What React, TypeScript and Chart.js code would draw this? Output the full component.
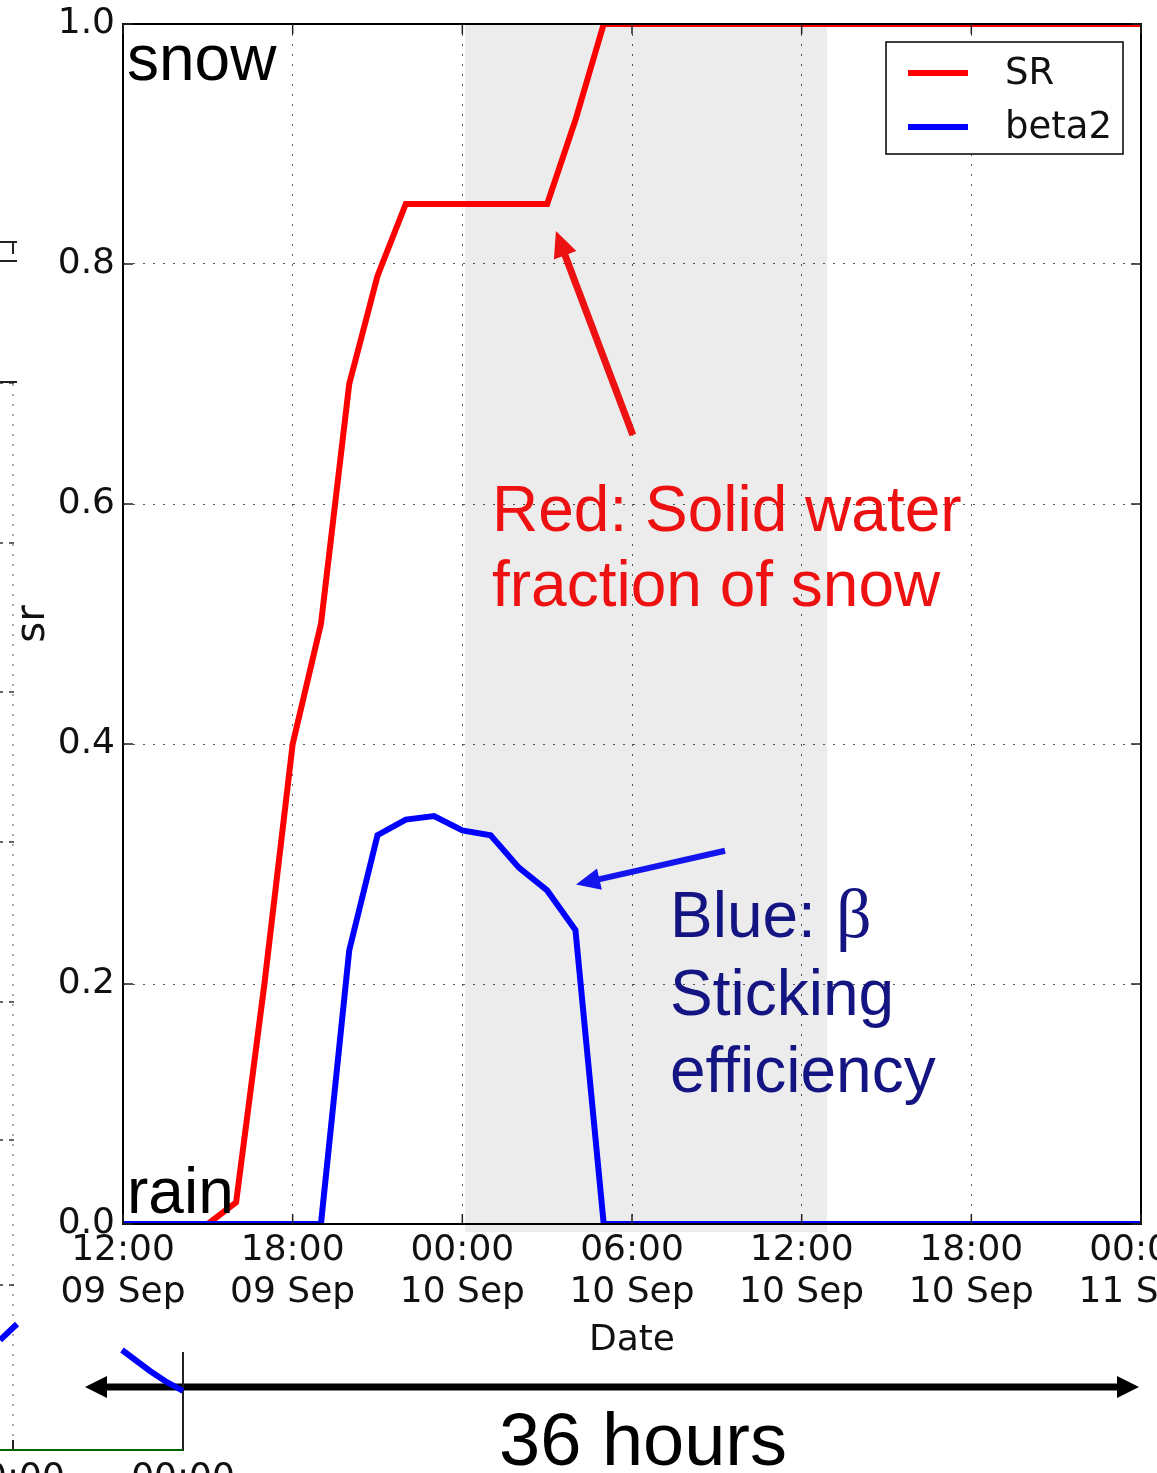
import { useEffect, useRef } from "react";
import { Chart, registerables } from "chart.js";

Chart.register(...registerables);

// ---- data (hours after 12:00 09 Sep) ----
const hours = [0, 1, 2, 3, 4, 5, 6, 7, 8, 9, 10, 11, 12, 13, 14, 15, 16, 17, 18, 19, 20, 21, 22, 23, 24, 25, 26, 27, 28, 29, 30, 31, 32, 33, 34, 35, 36];
const srValues = [0, 0, 0, 0, 0.018, 0.2, 0.4, 0.5, 0.7, 0.79, 0.85, 0.85, 0.85, 0.85, 0.85, 0.85, 0.92, 1.0, 1.0, 1.0, 1.0, 1.0, 1.0, 1.0, 1.0, 1.0, 1.0, 1.0, 1.0, 1.0, 1.0, 1.0, 1.0, 1.0, 1.0, 1.0, 1.0];
const beta2Values = [0, 0, 0, 0, 0, 0, 0, 0, 0.228, 0.324, 0.337, 0.34, 0.328, 0.324, 0.297, 0.278, 0.245, 0, 0, 0, 0, 0, 0, 0, 0, 0, 0, 0, 0, 0, 0, 0, 0, 0, 0, 0, 0];
const seriesNames = ["SR", "beta2"];
const seriesColors = ["#ff0000", "#0000ff"];
const xTickTimes = ["12:00", "18:00", "00:00", "06:00", "12:00", "18:00", "00:00"];
const xTickDates = ["09 Sep", "09 Sep", "10 Sep", "10 Sep", "10 Sep", "10 Sep", "11 Sep"];
const yTickLabels = ["0.0", "0.2", "0.4", "0.6", "0.8", "1.0"];
const shadeRange = [12.1, 24.9];
// annotation arrows in data coordinates: [tailHour, tailValue, tipHour, tipValue]
const redArrow = [18.03, 0.6575, 15.31, 0.8275];
const blueArrow = [21.29, 0.311, 16.02, 0.283];
const spanHours = [0, 36];

const TICK_FONT = '"DejaVu Sans", sans-serif';
const ANNOT_FONT = '"Liberation Sans", Arial, sans-serif';

function drawArrow(ctx: CanvasRenderingContext2D, x1: number, y1: number, x2: number, y2: number, w: number, headLen: number, headHalf: number, color: string) {
  const ang = Math.atan2(y2 - y1, x2 - x1);
  const bx = x2 - headLen * Math.cos(ang);
  const by = y2 - headLen * Math.sin(ang);
  ctx.save();
  ctx.strokeStyle = color;
  ctx.fillStyle = color;
  ctx.lineWidth = w;
  ctx.lineCap = "butt";
  ctx.beginPath();
  ctx.moveTo(x1, y1);
  ctx.lineTo(bx + Math.cos(ang) * 2, by + Math.sin(ang) * 2);
  ctx.stroke();
  ctx.beginPath();
  ctx.moveTo(x2, y2);
  ctx.lineTo(bx + headHalf * Math.sin(ang), by - headHalf * Math.cos(ang));
  ctx.lineTo(bx - headHalf * Math.sin(ang), by + headHalf * Math.cos(ang));
  ctx.closePath();
  ctx.fill();
  ctx.restore();
}

const decorPlugin = {
  id: "decor",
  beforeDatasetsDraw(chart: any) {
    const { ctx, chartArea, scales } = chart;
    const x = scales.x;
    const x0 = x.getPixelForValue(shadeRange[0]);
    const x1 = x.getPixelForValue(shadeRange[1]);
    ctx.save();
    ctx.fillStyle = "rgba(0,0,0,0.075)";
    ctx.fillRect(x0, chartArea.top, x1 - x0, chartArea.bottom - chartArea.top + 8);
    ctx.restore();
  },
  afterDatasetsDraw(chart: any) {
    const { ctx, chartArea, scales } = chart;
    const xs = scales.x;
    const ys = scales.y;
    const { left, right, top, bottom } = chartArea;
    ctx.save();
    // frame
    ctx.strokeStyle = "#000";
    ctx.lineWidth = 2;
    ctx.strokeRect(left, top, right - left, bottom - top);
    // inside tick marks
    ctx.lineWidth = 1.5;
    ctx.strokeStyle = "#222";
    ctx.beginPath();
    xs.ticks.forEach((t: any) => {
      const px = xs.getPixelForValue(t.value);
      ctx.moveTo(px, bottom);
      ctx.lineTo(px, bottom - 10);
      ctx.moveTo(px, top);
      ctx.lineTo(px, top + 10);
    });
    ys.ticks.forEach((t: any) => {
      const py = ys.getPixelForValue(t.value);
      ctx.moveTo(left, py);
      ctx.lineTo(left + 10, py);
      ctx.moveTo(right, py);
      ctx.lineTo(right - 10, py);
    });
    ctx.stroke();

    // legend
    const lx = 886, ly = 42, lw = 237, lh = 112;
    ctx.fillStyle = "#fff";
    ctx.fillRect(lx, ly, lw, lh);
    ctx.strokeStyle = "#000";
    ctx.lineWidth = 1.5;
    ctx.strokeRect(lx, ly, lw, lh);
    chart.data.datasets.forEach((ds: any, i: number) => {
      const cy = ly + 31 + i * 54;
      ctx.strokeStyle = ds.borderColor;
      ctx.lineWidth = 6;
      ctx.beginPath();
      ctx.moveTo(lx + 22, cy);
      ctx.lineTo(lx + 82, cy);
      ctx.stroke();
      ctx.fillStyle = "#111";
      ctx.font = `37px ${TICK_FONT}`;
      ctx.textBaseline = "middle";
      ctx.textAlign = "left";
      ctx.fillText(ds.label, lx + 119, cy + 1);
    });

    // snow / rain
    ctx.fillStyle = "#000";
    ctx.textBaseline = "alphabetic";
    ctx.font = `64px ${ANNOT_FONT}`;
    ctx.fillText("snow", left + 4, 80);
    ctx.fillText("rain", left + 4, 1213);

    // red text + arrow
    ctx.fillStyle = "#ee1111";
    ctx.font = `64px ${ANNOT_FONT}`;
    ctx.fillText("Red: Solid water", 492, 531);
    ctx.fillText("fraction of snow", 492, 606);
    drawArrow(ctx, xs.getPixelForValue(redArrow[0]), ys.getPixelForValue(redArrow[1]), xs.getPixelForValue(redArrow[2]), ys.getPixelForValue(redArrow[3]), 7, 26, 12, "#ee1111");

    // blue text + arrow
    const navy = "#141482";
    ctx.fillStyle = navy;
    ctx.font = `64px ${ANNOT_FONT}`;
    ctx.fillText("Blue: ", 670, 937);
    ctx.font = `70px "Liberation Serif", "Times New Roman", serif`;
    ctx.fillText("β", 836, 937);
    ctx.font = `64px ${ANNOT_FONT}`;
    ctx.fillText("Sticking", 670, 1015);
    ctx.fillText("efficiency", 670, 1092);
    drawArrow(ctx, xs.getPixelForValue(blueArrow[0]), ys.getPixelForValue(blueArrow[1]), xs.getPixelForValue(blueArrow[2]), ys.getPixelForValue(blueArrow[3]), 6, 24, 11, "#1414ee");

    // 36 hours double arrow
    const ax0 = 85;
    const ax1 = xs.getPixelForValue(spanHours[1]) - 2;
    const ay = 1387;
    ctx.strokeStyle = "#000";
    ctx.fillStyle = "#000";
    ctx.lineWidth = 7;
    ctx.beginPath();
    ctx.moveTo(ax0 + 20, ay);
    ctx.lineTo(ax1 - 20, ay);
    ctx.stroke();
    ctx.beginPath();
    ctx.moveTo(ax0, ay);
    ctx.lineTo(ax0 + 22, ay - 11);
    ctx.lineTo(ax0 + 22, ay + 11);
    ctx.closePath();
    ctx.fill();
    ctx.beginPath();
    ctx.moveTo(ax1, ay);
    ctx.lineTo(ax1 - 22, ay - 11);
    ctx.lineTo(ax1 - 22, ay + 11);
    ctx.closePath();
    ctx.fill();
    ctx.font = `74px ${ANNOT_FONT}`;
    ctx.textAlign = "center";
    ctx.fillText("36 hours", 643, 1465);

    // fragments of the neighbouring panel at the left edge
    ctx.textAlign = "left";
    ctx.strokeStyle = "#555";
    ctx.lineWidth = 1;
    ctx.setLineDash([2, 8]);
    ctx.beginPath();
    ctx.moveTo(13, 384);
    ctx.lineTo(13, 1450);
    ctx.stroke();
    ctx.setLineDash([]);
    ctx.strokeStyle = "#333";
    ctx.lineWidth = 1.5;
    ctx.beginPath();
    [383, 543, 692, 842, 1002, 1140, 1285].forEach((py) => {
      ctx.moveTo(0, py);
      ctx.lineTo(3, py);
      ctx.moveTo(9, py);
      ctx.lineTo(14, py);
    });
    ctx.stroke();
    ctx.strokeStyle = "#222";
    ctx.lineWidth = 2;
    ctx.beginPath();
    ctx.moveTo(0, 242); ctx.lineTo(17, 242);
    ctx.moveTo(13, 242); ctx.lineTo(13, 254);
    ctx.moveTo(0, 261); ctx.lineTo(17, 261);
    ctx.moveTo(0, 382); ctx.lineTo(17, 382);
    ctx.moveTo(183, 1352); ctx.lineTo(183, 1451);
    ctx.moveTo(13, 1440); ctx.lineTo(13, 1451);
    ctx.stroke();
    ctx.strokeStyle = "#006400";
    ctx.beginPath();
    ctx.moveTo(0, 1450); ctx.lineTo(183, 1450);
    ctx.stroke();
    ctx.strokeStyle = "#0000ff";
    ctx.lineWidth = 6;
    ctx.beginPath();
    ctx.moveTo(0, 1340); ctx.lineTo(17, 1324);
    ctx.moveTo(122, 1350); ctx.lineTo(150, 1371); ctx.lineTo(165, 1381); ctx.lineTo(183, 1391);
    ctx.stroke();
    ctx.fillStyle = "#111";
    ctx.font = `36px ${TICK_FONT}`;
    ctx.textAlign = "center";
    ctx.fillText("00:00", 13, 1488);
    ctx.fillText("00:00", 183, 1488);
    ctx.restore();
  },
};

export default function App() {
  const canvasRef = useRef<HTMLCanvasElement | null>(null);

  useEffect(() => {
    const canvas = canvasRef.current;
    if (!canvas) return;
    const chart = new Chart(canvas, {
      type: "line",
      data: {
        datasets: [
          {
            label: seriesNames[0],
            data: hours.map((h, i) => ({ x: h, y: srValues[i] })),
            borderColor: seriesColors[0],
            backgroundColor: seriesColors[0],
            borderWidth: 6,
            pointRadius: 0,
            tension: 0,
            order: 2,
          },
          {
            label: seriesNames[1],
            data: hours.map((h, i) => ({ x: h, y: beta2Values[i] })),
            borderColor: seriesColors[1],
            backgroundColor: seriesColors[1],
            borderWidth: 6,
            pointRadius: 0,
            tension: 0,
            order: 1,
          },
        ],
      },
      options: {
        animation: false,
        responsive: false,
        devicePixelRatio: 1,
        layout: { padding: { left: 0, right: 16, top: 24, bottom: 0 }, autoPadding: false },
        plugins: { legend: { display: false }, tooltip: { enabled: false } },
        scales: {
          x: {
            type: "linear",
            min: 0,
            max: 36,
            afterFit: (s: any) => {
              s.height = 249;
              s.paddingLeft = 0;
              s.paddingRight = 0;
            },
            ticks: {
              stepSize: 6,
              autoSkip: false,
              maxRotation: 0,
              padding: 6,
              color: "#111",
              font: { family: TICK_FONT, size: 36, lineHeight: 1.167 },
              callback: (v: any) => {
                const i = Math.round(Number(v) / 6);
                return [xTickTimes[i], xTickDates[i]];
              },
            },
            grid: { color: "#555", lineWidth: 1, drawTicks: false },
            border: { display: false, dash: [2, 8] },
            title: {
              display: true,
              text: "Date",
              color: "#111",
              font: { family: TICK_FONT, size: 36, lineHeight: 1.2 },
              padding: { top: 0, bottom: 111 },
            },
          },
          y: {
            type: "linear",
            min: 0,
            max: 1,
            afterFit: (s: any) => {
              s.width = 123;
              s.paddingTop = 0;
              s.paddingBottom = 0;
            },
            ticks: {
              stepSize: 0.2,
              padding: 8,
              color: "#111",
              font: { family: TICK_FONT, size: 36 },
              callback: (v: any) => yTickLabels[Math.round(Number(v) / 0.2)],
            },
            grid: { color: "#555", lineWidth: 1, drawTicks: false },
            border: { display: false, dash: [2, 8] },
            title: {
              display: true,
              text: "sr",
              color: "#111",
              font: { family: TICK_FONT, size: 40, lineHeight: 1.2 },
              padding: { top: 10, bottom: 0 },
            },
          },
        },
      },
      plugins: [decorPlugin],
    });
    return () => chart.destroy();
  }, []);

  return (
    <div style={{ position: "absolute", left: 0, top: 0, width: 1157, height: 1473, background: "#fff" }}>
      <canvas ref={canvasRef} width={1157} height={1473} style={{ display: "block" }} />
    </div>
  );
}
